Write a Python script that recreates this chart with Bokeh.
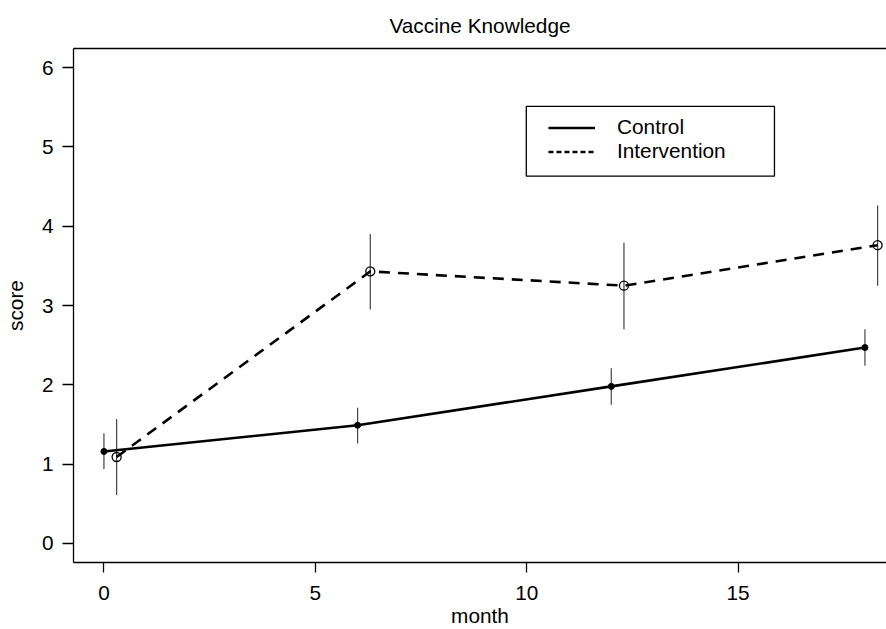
from bokeh.plotting import figure
from bokeh.models import (Range1d, FixedTicker, LinearAxis, Legend, LegendItem,
                          BoxAnnotation)
from bokeh.embed import file_html
from bokeh.resources import INLINE

# Vaccine knowledge score by follow-up month, with error bars
control_month = [0, 6, 12, 18]
control_score = [1.16, 1.49, 1.98, 2.47]
control_lower = [0.94, 1.26, 1.75, 2.24]
control_upper = [1.39, 1.71, 2.21, 2.70]

interv_month = [0.3, 6.3, 12.3, 18.3]
interv_score = [1.09, 3.43, 3.25, 3.76]
interv_lower = [0.61, 2.95, 2.70, 3.25]
interv_upper = [1.57, 3.90, 3.79, 4.26]

x_ticks = [0, 5, 10, 15]
y_ticks = [0, 1, 2, 3, 4, 5, 6]

FONT = "Liberation Sans"
FS = "20.8px"

p = figure(width=886, height=629, output_backend="svg", toolbar_location=None,
           x_range=Range1d(-0.72, 18.51), y_range=Range1d(-0.24, 6.24),
           min_border_left=73, min_border_right=0, min_border_top=48,
           min_border_bottom=67, title="Vaccine Knowledge")
p.outline_line_color = None
p.grid.visible = False
p.background_fill_color = "white"
p.border_fill_color = "white"

p.title.align = "center"
p.title.text_font = FONT
p.title.text_font_size = FS
p.title.text_font_style = "normal"
p.title.text_color = "black"
p.title.standoff = 23

for ax in (p.xaxis[0], p.yaxis[0]):
    ax.axis_line_color = "black"
    ax.axis_line_width = 1.3
    ax.major_tick_line_color = "black"
    ax.major_tick_line_width = 1.3
    ax.major_tick_in = 0
    ax.minor_tick_line_color = None
    ax.major_label_text_font = FONT
    ax.major_label_text_font_size = FS
    ax.major_label_text_color = "black"
    ax.axis_label_text_font = FONT
    ax.axis_label_text_font_size = FS
    ax.axis_label_text_font_style = "normal"
    ax.axis_label_text_color = "black"

xax = p.xaxis[0]
xax.ticker = FixedTicker(ticks=x_ticks)
xax.major_tick_out = 10
xax.major_label_standoff = 13
xax.axis_label = "month"
xax.axis_label_standoff = 1

yax = p.yaxis[0]
yax.ticker = FixedTicker(ticks=y_ticks)
yax.major_tick_out = 11
yax.major_label_standoff = 9
yax.major_label_orientation = "horizontal"
yax.axis_label = "score"
yax.axis_label_standoff = 12

# top border of the box: a bare axis line with no extent of its own
top = LinearAxis(ticker=FixedTicker(ticks=[]), axis_line_color="black",
                 axis_line_width=1.3, major_tick_line_color=None,
                 minor_tick_line_color=None, major_tick_out=0, major_tick_in=0,
                 minor_tick_out=0, minor_tick_in=0, major_label_standoff=0,
                 axis_label_standoff=0, major_label_text_font_size="0px",
                 axis_label=None)
p.add_layout(top, "above")

# error bars
p.segment(control_month, control_lower, control_month, control_upper,
          line_color="#444444", line_width=1.2)
p.segment(interv_month, interv_lower, interv_month, interv_upper,
          line_color="#444444", line_width=1.2)

# group mean lines
p.line(control_month, control_score, line_color="black", line_width=2.6)
p.line(interv_month, interv_score, line_color="black", line_width=2.6,
       line_dash="11 8")

p.scatter(control_month, control_score, size=6, marker="circle",
          fill_color="black", line_color="black")
p.scatter(interv_month, interv_score, size=9, marker="circle",
          fill_color=None, line_color="black", line_width=1.3)

# legend: framed box plus key lines with their own dash pattern
legend_box = BoxAnnotation(left=9.99, right=15.86, bottom=4.63, top=5.51,
                           fill_color=None, fill_alpha=0, line_color="black",
                           line_alpha=1, line_width=1.3)
p.add_layout(legend_box)

nan = float("nan")
leg_solid = p.line([nan], [nan], line_color="black", line_width=2.6)
leg_dash = p.line([nan], [nan], line_color="black", line_width=2.6,
                  line_dash="5 3")
legend = Legend(items=[LegendItem(label="Control", renderers=[leg_solid]),
                       LegendItem(label="Intervention", renderers=[leg_dash])],
                location=(475, 399), padding=0, spacing=0,
                glyph_width=47, glyph_height=23, label_height=23,
                label_standoff=22, label_text_font=FONT,
                label_text_font_size=FS, label_text_color="black",
                border_line_color=None, background_fill_color=None,
                background_fill_alpha=0)
p.add_layout(legend, "center")

open("out.html", "w").write(file_html(p, INLINE))
